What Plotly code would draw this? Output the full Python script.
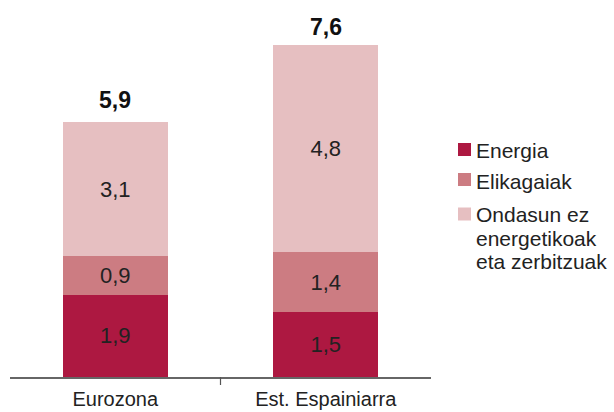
import plotly.graph_objects as go

categories = ["Eurozona", "Est. Espainiarra"]
series_names = ["Energia", "Elikagaiak", "Ondasun ez<br>energetikoak<br>eta zerbitzuak"]
energia = [1.9, 1.5]
elikagaiak = [0.9, 1.4]
ondasun = [3.1, 4.8]
totals = [5.9, 7.6]
colors = ["#AD1841", "#CC7C82", "#E6BFC1"]

W, H = 614, 412
ML, MR, MT, MB = 10, 183, 10, 35
PW, PH = W - ML - MR, H - MT - MB

def px_x(p):
    return (p - ML) / PW

def px_y(p):
    return (H - MB - p) / PH

def fmt(v):
    return f"{v:.1f}".replace(".", ",")

FONT = "Liberation Sans, Arial, sans-serif"

fig = go.Figure()
for name, vals, col in zip(series_names, [energia, elikagaiak, ondasun], colors):
    fig.add_trace(go.Bar(
        x=categories, y=vals, name=name, marker=dict(color=col, line=dict(width=0)),
        text=[fmt(v) for v in vals], textposition="inside", insidetextanchor="middle",
        textangle=0, textfont=dict(size=22, color="#222222", family=FONT),
        showlegend=False, hoverinfo="skip",
    ))

for c, t in zip(categories, totals):
    fig.add_annotation(x=c, y=t, text=f"<b>{fmt(t)}</b>", showarrow=False,
                       yanchor="bottom", yshift=7,
                       font=dict(size=23, color="#111111", family=FONT))

# middle tick between the categories
fig.add_shape(type="line", xref="x", yref="paper", x0=0.5, x1=0.5,
              y0=0, y1=-8 / PH, line=dict(color="#555555", width=1.2))

# custom legend
sq_centers = [149.5, 179.5, 214]
txt_centers = [150, 181, 215]
LINE_GAP = 23
for name, col, sc, tc in zip(series_names, colors, sq_centers, txt_centers):
    fig.add_shape(type="rect", xref="paper", yref="paper",
                  x0=px_x(458), x1=px_x(471), y0=px_y(sc + 6.5), y1=px_y(sc - 6.5),
                  fillcolor=col, line=dict(width=0))
    for i, line in enumerate(name.split("<br>")):
        fig.add_annotation(xref="paper", yref="paper", x=px_x(474),
                           y=px_y(tc + i * LINE_GAP),
                           text=line, showarrow=False, xanchor="left", yanchor="middle",
                           align="left", font=dict(size=21, color="#222222", family=FONT))

fig.update_layout(
    barmode="stack", bargap=0.5,
    width=W, height=H, margin=dict(l=ML, r=MR, t=MT, b=MB, autoexpand=False),
    plot_bgcolor="white", paper_bgcolor="white",
    xaxis=dict(showline=True, linecolor="#666666", linewidth=1.5, ticks="",
               tickfont=dict(size=20, color="#222222", family=FONT),
               ticklabelstandoff=3, automargin=False,
               showgrid=False, zeroline=False),
    yaxis=dict(range=[0, 8.5], visible=False, showgrid=False, zeroline=False,
               automargin=False),
    font=dict(family=FONT),
)

fig.write_html("out.html", config={"displayModeBar": False},
               post_script="document.body.style.margin='0';")
